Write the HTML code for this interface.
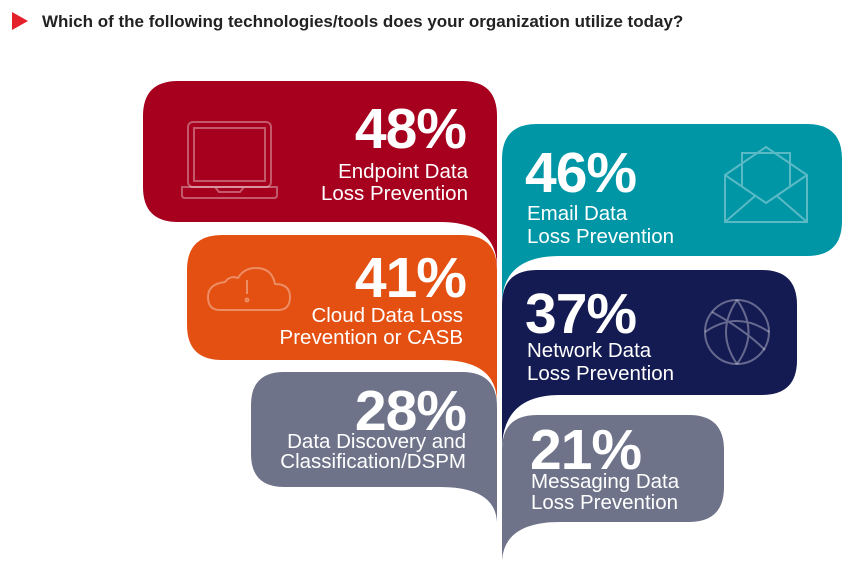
<!DOCTYPE html>
<html><head><meta charset="utf-8"><style>
body{margin:0;width:866px;height:570px;background:#fff;overflow:hidden;font-family:"Liberation Sans",sans-serif}
svg{position:absolute;left:0;top:0}
.p{font-weight:bold;fill:#fff;font-size:57px;letter-spacing:-1px}
.l{fill:#fff;font-size:20.5px}
</style></head><body>
<svg width="866" height="570" viewBox="0 0 866 570">
<polygon points="12,12 28,21 12,30" fill="#E4202B"/>
<text x="42" y="27" font-size="17" font-weight="bold" fill="#222">Which of the following technologies/tools does your organization utilize today?</text>

<path d="M178,81 H462 Q497,81 497,116 V265 Q495,222 440,222 H178 Q143,222 143,187 V116 Q143,81 178,81 Z" fill="#A6001E"/>
<path d="M222,235 H462 Q497,235 497,270 V400 Q495,360 440,360 H222 Q187,360 187,325 V270 Q187,235 222,235 Z" fill="#E35012"/>
<path d="M284,372 H462 Q497,372 497,407 V522 Q495,487 440,487 H284 Q251,487 251,454 V405 Q251,372 284,372 Z" fill="#6E7389"/>
<path d="M537,124 H807 Q842,124 842,159 V221 Q842,256 807,256 H560 Q505,256 502,300 V159 Q502,124 537,124 Z" fill="#0096A6"/>
<path d="M537,270 H762 Q797,270 797,305 V360 Q797,395 762,395 H560 Q505,395 502,445 V305 Q502,270 537,270 Z" fill="#141A52"/>
<path d="M537,415 H689 Q724,415 724,450 V487 Q724,522 689,522 H560 Q505,522 502,560 V450 Q502,415 537,415 Z" fill="#6E7389"/>

<g fill="none" stroke="#fff" stroke-opacity="0.35" stroke-width="2">
<rect x="188" y="122" width="83" height="65" rx="5"/><rect x="194" y="128" width="71" height="53"/>
<path d="M182,187 H277 V195 Q277,198 274,198 H185 Q182,198 182,195 Z M215,187 L219,192 H240 L244,187"/>
<path d="M220,310 H278 Q290,310 290,297 Q290,284 275,284 Q272,268 256,268 Q244,268 238,278 Q230,275 225,282 Q208,284 208,297 Q208,310 220,310 Z"/>
<line x1="247" y1="280" x2="247" y2="294"/><circle cx="247" cy="300" r="1.5"/>
<path d="M725,175 L766,147 L807,175 V222 H725 Z M725,175 L766,203 L807,175 M725,222 L755,196 M807,222 L777,196 M742,187 V153 H790 V187"/>
<circle cx="737" cy="332" r="32"/><path d="M705,332 Q737,310 769,332 M737,300 Q715,332 737,364 M737,300 Q760,332 737,364 M712,312 Q745,330 765,350"/>
</g>

<g text-anchor="end">
<text class="p" x="466" y="148">48%</text>
<text class="l" x="468" y="178">Endpoint Data</text>
<text class="l" x="468" y="200">Loss Prevention</text>
<text class="p" x="466" y="297">41%</text>
<text class="l" x="463" y="322">Cloud Data Loss</text>
<text class="l" x="463" y="344">Prevention or CASB</text>
<text class="p" x="466" y="430">28%</text>
<text class="l" x="466" y="448" font-size="18">Data Discovery and</text>
<text class="l" x="466" y="468" font-size="18">Classification/DSPM</text>
</g>
<text class="p" x="525" y="192">46%</text>
<text class="l" x="527" y="220">Email Data</text>
<text class="l" x="527" y="243">Loss Prevention</text>
<text class="p" x="525" y="333">37%</text>
<text class="l" x="527" y="357">Network Data</text>
<text class="l" x="527" y="380">Loss Prevention</text>
<text class="p" x="530" y="469" font-size="49">21%</text>
<text class="l" x="531" y="488" font-size="18">Messaging Data</text>
<text class="l" x="531" y="509" font-size="18">Loss Prevention</text>
</svg>
</body></html>
